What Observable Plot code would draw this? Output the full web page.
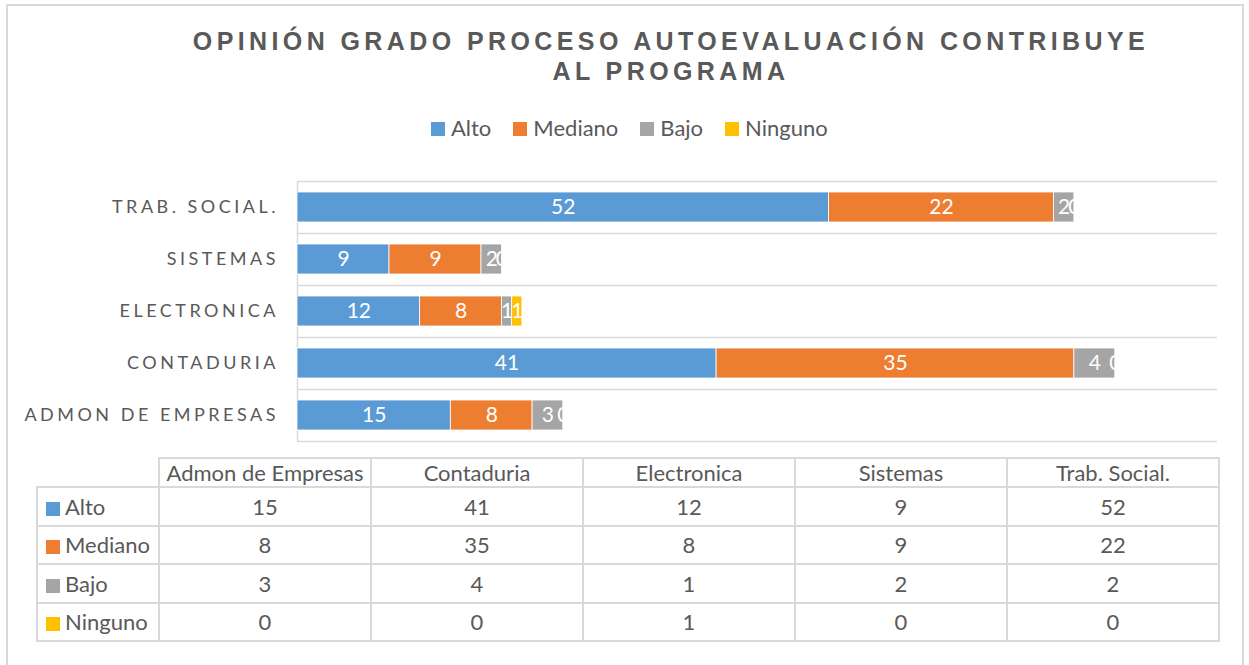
<!DOCTYPE html>
<html>
<head>
<meta charset="utf-8">
<script src="https://cdn.jsdelivr.net/npm/d3@7"></script>
<script src="https://cdn.jsdelivr.net/npm/@observablehq/plot@0.6"></script>
<style>
  html, body { margin: 0; padding: 0; background: #fff; }
  body { width: 1249px; height: 665px; position: relative; overflow: hidden; font-family: Lato, "Open Sans", sans-serif; color: #595959; }
  #frame { position: absolute; left: 6px; top: 4px; width: 1238px; height: 700px; border: 2px solid #d9d9d9; box-sizing: border-box; }
  #title { position: absolute; left: 170px; width: 1002px; top: 26px; text-align: center; font-family: "Liberation Sans", Arial, sans-serif; font-weight: bold; font-size: 25px; line-height: 30px; letter-spacing: 4.4px; color: #595959; }
  #legend { position: absolute; left: 431px; top: 115px; display: flex; align-items: center; font-size: 22px; line-height: 26px; }
  #legend .item { display: flex; align-items: center; margin-right: 22px; }
  #legend .sw { width: 14px; height: 14px; margin-right: 6px; margin-top: 1px; }
  #chart { position: absolute; left: 0; top: 170px; }
  #chart g[aria-label="y-axis tick label"] text { letter-spacing: 3.5px; }
  #tbl { position: absolute; left: 36px; top: 457px; border-collapse: collapse; table-layout: fixed; width: 1182px; font-size: 22px; color: #595959; }
  #tbl td { border: 2px solid #d9d9d9; text-align: center; padding: 0; overflow: hidden; }
  #tbl tr.head td { height: 27px; line-height: 25px; }
  #tbl tr.body td { height: 36.5px; }
  #tbl td.lab { text-align: left; padding-left: 8px; white-space: nowrap; }
  #tbl td.lab .sw { display: inline-block; width: 14px; height: 14px; margin-right: 5px; vertical-align: -1px; }
  #tbl td.blank { border-top: none; border-left: none; }
</style>
</head>
<body>
<div id="frame"></div>
<div id="title">OPINIÓN GRADO PROCESO AUTOEVALUACIÓN CONTRIBUYE<br>AL PROGRAMA</div>
<div id="legend"></div>
<div id="chart"></div>
<table id="tbl"></table>
<script>
const programs = ["Admon de Empresas", "Contaduria", "Electronica", "Sistemas", "Trab. Social."];
const levels = ["Alto", "Mediano", "Bajo", "Ninguno"];
const colors = ["#5B9BD5", "#ED7D31", "#A5A5A5", "#FFC000"];
const alto = [15, 41, 12, 9, 52];
const mediano = [8, 35, 8, 9, 22];
const bajo = [3, 4, 1, 2, 2];
const ninguno = [0, 0, 1, 0, 0];
const seriesValues = [alto, mediano, bajo, ninguno];

const data = [];
levels.forEach((lvl, li) => {
  programs.forEach((p, pi) => data.push({program: p, level: lvl, value: seriesValues[li][pi]}));
});

// Legend
const legend = document.getElementById("legend");
levels.forEach((l, i) => {
  const it = document.createElement("div");
  it.className = "item";
  it.innerHTML = `<span class="sw" style="background:${colors[i]}"></span><span>${l}</span>`;
  legend.appendChild(it);
});

// Chart
const W = 1249, H = 280, mT = 11, mB = 9;
const bandH = (H - mT - mB) / programs.length;
const yDomain = programs.slice().reverse();
const grid = "#d9d9d9";

const plot = Plot.plot({
  width: W,
  height: H,
  marginLeft: 297,
  marginRight: 32,
  marginTop: mT,
  marginBottom: mB,
  style: {fontFamily: "Lato, 'Open Sans', sans-serif", color: "#595959", background: "transparent"},
  x: {domain: [0, 90], axis: null},
  y: {domain: yDomain, padding: 0, label: null},
  color: {domain: levels, range: colors},
  marks: [
    Plot.ruleY(yDomain, {y: d => d, dy: -bandH / 2, stroke: grid, strokeWidth: 1.5}),
    Plot.ruleY([programs[0]], {y: d => d, dy: bandH / 2, stroke: grid, strokeWidth: 1.5}),
    Plot.ruleX([0], {stroke: grid, strokeWidth: 1.5}),
    Plot.barX(data, Plot.stackX({x: "value", y: "program", z: "level", order: levels, fill: "level", stroke: "white", strokeWidth: 0.8, insetTop: 11, insetBottom: 11})),
    Plot.text(data, Plot.stackX({x: "value", y: "program", z: "level", order: levels, text: d => String(d.value), fill: "white", fontSize: 21})),
    Plot.axisY({tickSize: 0, tickPadding: 18.5, fontSize: 18, tickFormat: d => d.toUpperCase(), fill: "#595959", label: null})
  ]
});
document.getElementById("chart").appendChild(plot);

// Data table
const tbl = document.getElementById("tbl");
const colW = [122, 212, 212, 212, 212, 212];
let html = "<colgroup>" + colW.map(w => `<col style="width:${w}px">`).join("") + "</colgroup>";
html += '<tr class="head"><td class="blank"></td>';
programs.forEach(p => { html += `<td>${p}</td>`; });
html += "</tr>";
levels.forEach((l, li) => {
  html += `<tr class="body"><td class="lab"><span class="sw" style="background:${colors[li]}"></span>${l}</td>`;
  seriesValues[li].forEach(v => { html += `<td>${v}</td>`; });
  html += "</tr>";
});
tbl.innerHTML = html;
</script>
</body>
</html>
